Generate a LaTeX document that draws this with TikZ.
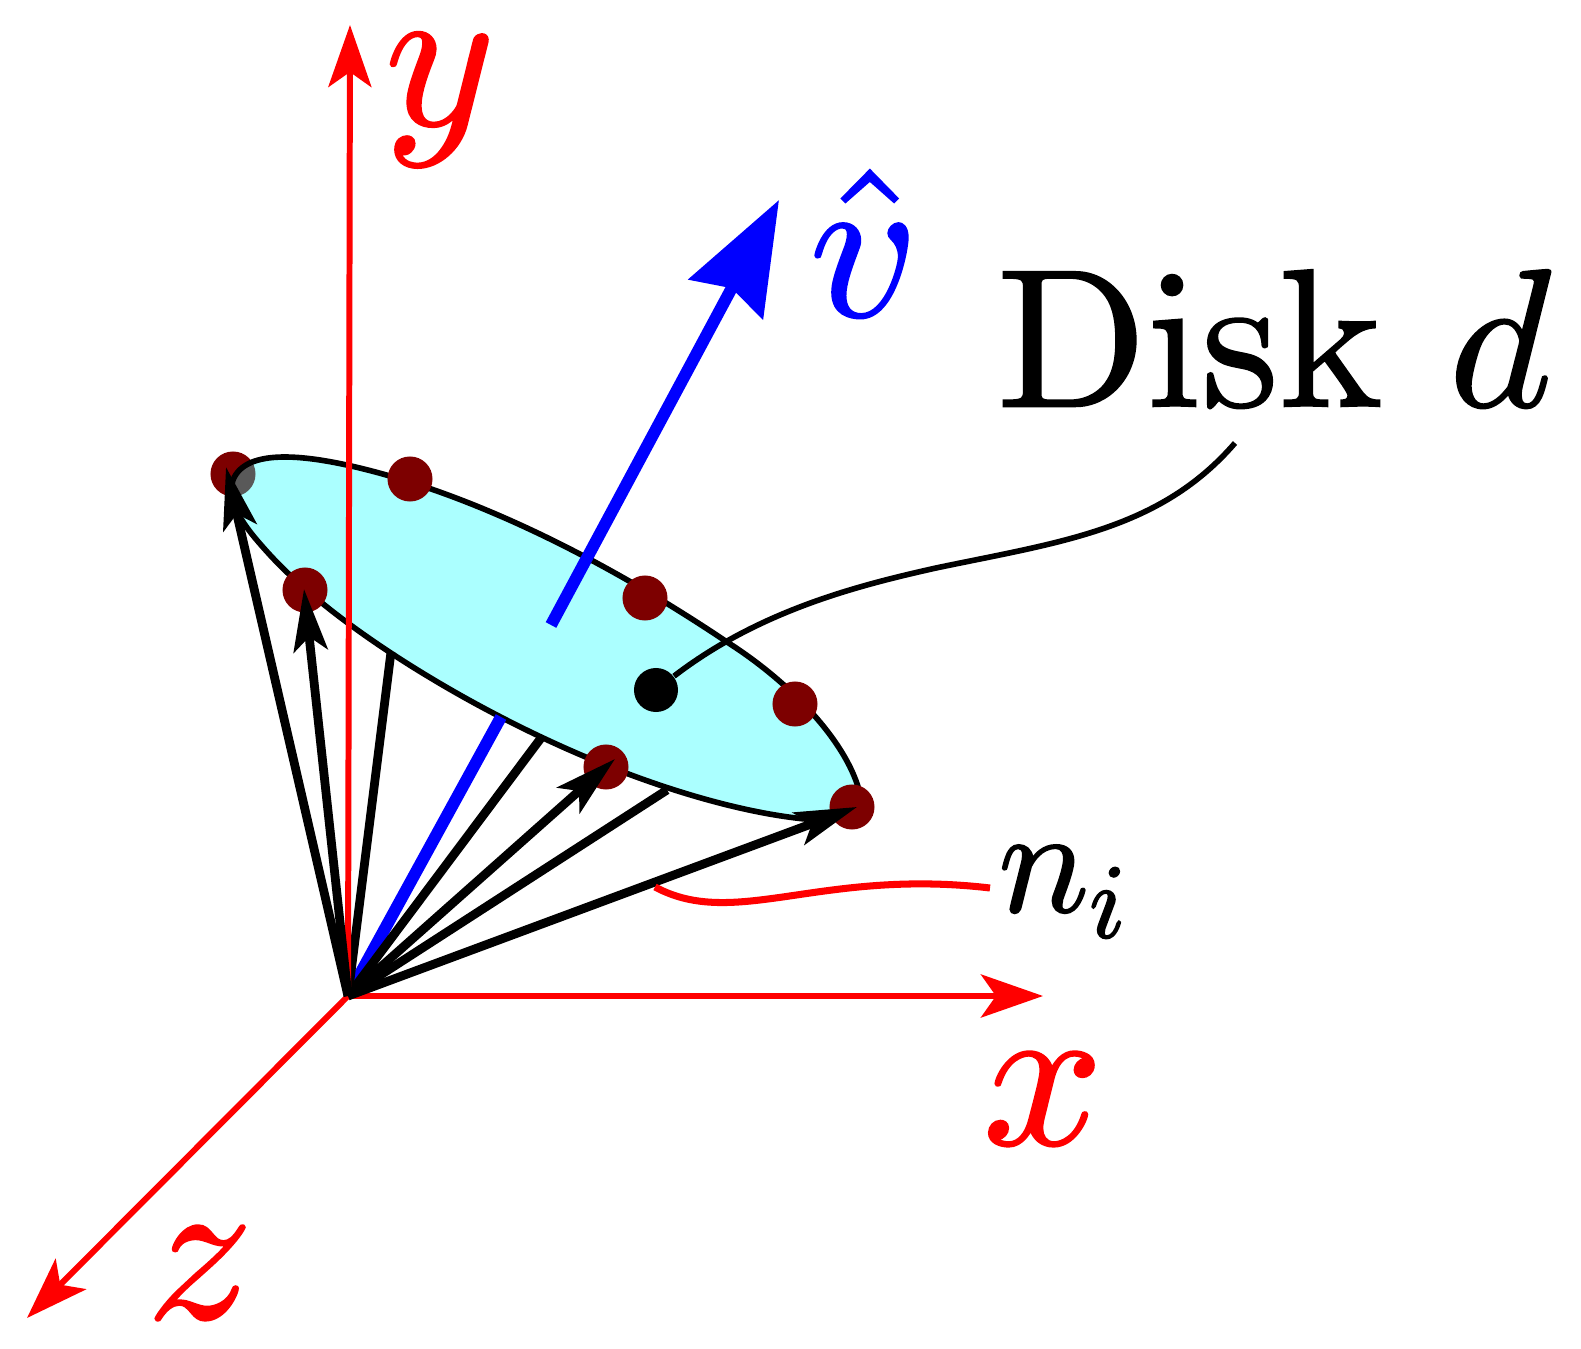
\documentclass[tikz,border=0pt]{standalone}
\usepackage{amsmath}
\usetikzlibrary{arrows.meta,positioning}
\renewcommand{\encodingdefault}{OT1}
\renewcommand{\rmdefault}{cmr}
\DeclareFontShape{OT1}{cmr}{m}{n}{<-> cmr10}{}
\DeclareFontShape{OML}{cmm}{m}{it}{<-> cmmi10}{}
\definecolor{diskfill}{rgb}{0.67,1,1}
\definecolor{dotred}{rgb}{0.49,0,0}
\tikzset{
  axisline/.style={red, line width=1.7pt, -{Stealth[length=0.62cm,width=0.43cm,inset=0.15cm]}},
  spoke/.style={black, line width=2.5pt},
  spokearrow/.style={spoke, -{Stealth[length=0.62cm,width=0.34cm,inset=0.14cm]}},
  normalline/.style={blue, line width=3.4pt},
  diskdot/.style={circle, fill=dotred, inner sep=0pt, minimum size=0.45cm},
  heavytext/.style={execute at begin node={\special{pdf:code 2 Tr 0.5 w}}, execute at end node={\special{pdf:code 0 Tr 1 w}}},
  biglabel/.style={heavytext, font=\fontsize{60}{62}\selectfont},
}
\begin{document}
\begin{tikzpicture}[x=0.01cm, y=-0.01cm]
  \useasboundingbox (0,0) rectangle (1581,1349);
  \coordinate (origin) at (348,996);
  \coordinate (xtip) at (1043,996);
  \coordinate (ytip) at (350,25);
  \coordinate (ztip) at (27,1318);
  \coordinate (vbase) at (551,625);
  \coordinate (vtip) at (779,200);
  \def\diskoutline{(233,480) .. controls (245,450) and (300,448) .. (410,482)
    .. controls (480,504) and (590,550) .. (727,642)
    .. controls (790,682) and (845,740) .. (859,790)
    .. controls (862,805) and (860,818) .. (817,820)
    .. controls (740,815) and (620,780) .. (493,713)
    .. controls (430,680) and (330,620) .. (270,555)
    .. controls (250,533) and (225,505) .. (233,480) -- cycle}

  \node[diskdot] (dotA) at (233,474) {};
  \fill[diskfill] \diskoutline;% the disk
  \begin{scope}
    \clip \diskoutline;
    \fill[black!65] (dotA) circle (0.225cm);% part of the dot seen through
  \end{scope}
  \draw[black, line width=1.6pt] \diskoutline;

  % hidden part of the normal, then spokes
  \draw[normalline] (origin) -- (501,717);
  \draw[spoke] (origin) -- (391,652);
  \draw[spoke] (origin) -- (541,738);
  \draw[spoke] (origin) -- (667,790);

  \draw[axisline] (origin) -- (xtip);
  \draw[axisline] (origin) -- (ytip);
  \draw[axisline] (origin) -- (ztip);

  \node[diskdot] (dotB) at (410,479) {};
  \node[diskdot] (dotC) at (305,590) {};
  \node[diskdot] (dotD) at (645,598) {};
  \node[diskdot] (dotE) at (795,704) {};
  \node[diskdot] (dotF) at (606,767) {};
  \node[diskdot] (dotG) at (852,807) {};
  \node[circle, fill=black, inner sep=0pt, minimum size=0.44cm] (center) at (656,690) {};

  \coordinate (tipA) at (226,467);
  \coordinate (tipC) at (304,589);
  \coordinate (tipF) at (615,759);
  \coordinate (tipG) at (857,807);
  \draw[spokearrow] (origin) -- (tipA);
  \draw[spokearrow] (origin) -- (tipC);
  \draw[spokearrow] (origin) -- (tipF);
  \draw[spokearrow] (origin) -- (tipG);

  \draw[normalline, -{Stealth[length=1.12cm,width=0.83cm,inset=0.12cm]}] (vbase) -- (vtip);

  \node[red, biglabel] (ylabel) at (440,100) {$y$};
  \node[red, biglabel] (xlabel) at (1043,1099) {$x$};
  \node[red, biglabel] (zlabel) at (200,1273) {$z$};
  \node[blue, biglabel] (vlabel) at (864,243) {$\hat{v}$};
  \node[black, heavytext, font=\fontsize{56}{60}\selectfont] (disklabel) at (1274,338) {Disk $d$};
  \node[black, heavytext, font=\fontsize{43}{45}\selectfont] (nlabel) at (1062,892) {$n\lower.17em\hbox{$\scriptstyle i$}$};

  \coordinate (diskbend) at (936,568);
  \coordinate (diskend) at (1235,443);
  \coordinate (nstart) at (655,887);
  \coordinate (nend) at (990,888);
  \draw[black, line width=1.6pt] (center) .. controls (760,610) and (860,585) .. (diskbend)
    .. controls (1060,542) and (1160,530) .. (diskend);
  \draw[red, line width=2pt] (nstart) .. controls (735,930) and (820,868) .. (nend);
\end{tikzpicture}
\end{document}
